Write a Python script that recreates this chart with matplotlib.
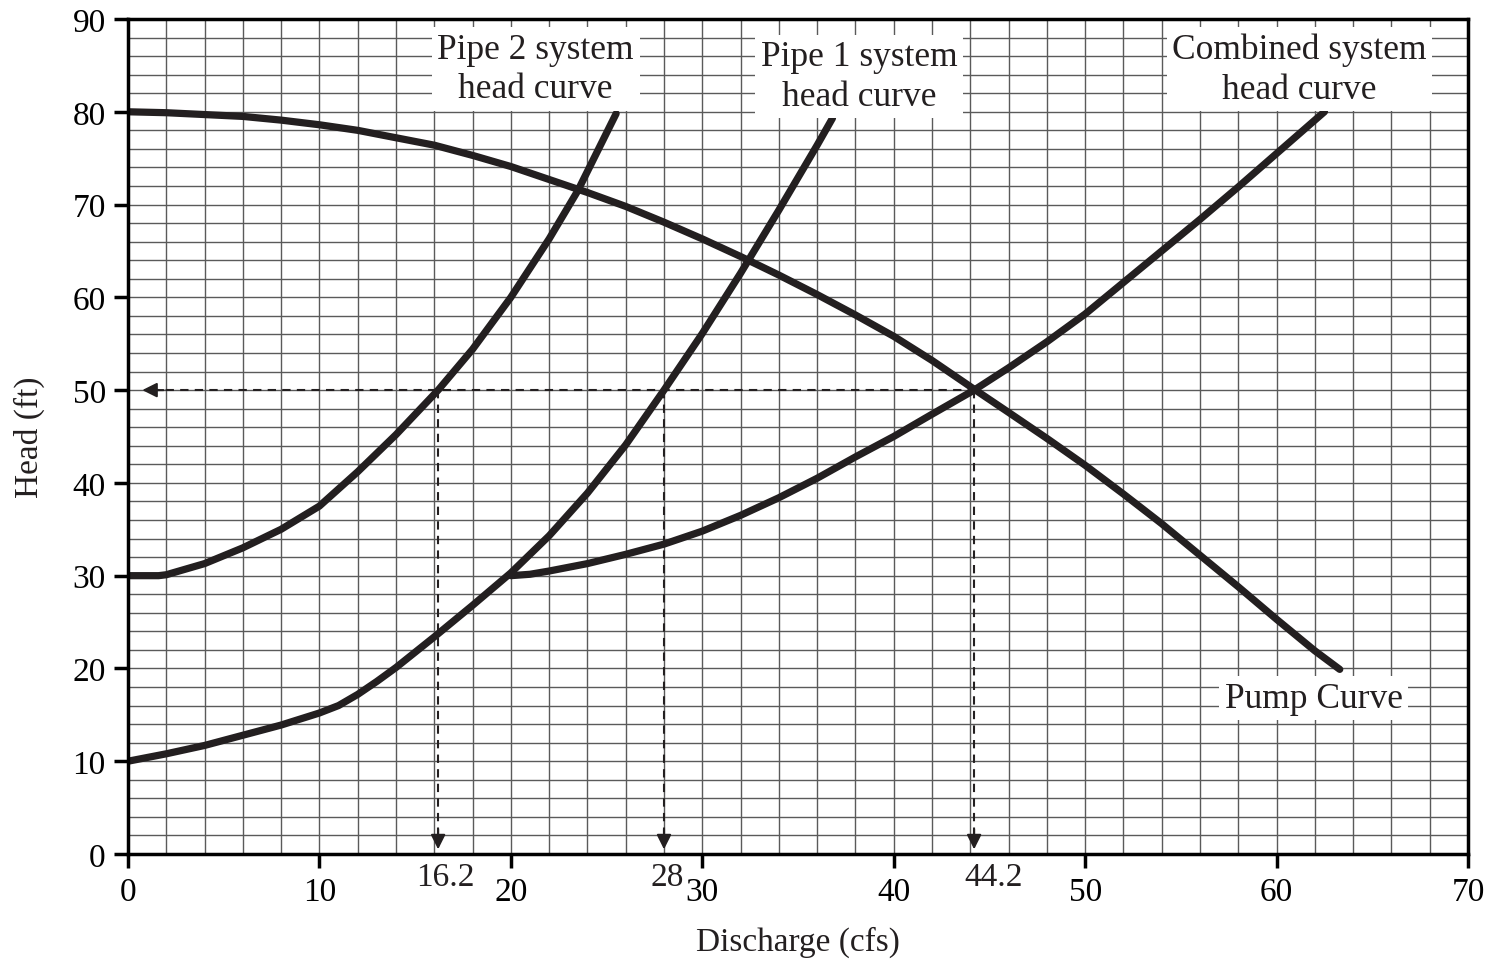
import matplotlib
matplotlib.use("Agg")
import matplotlib.pyplot as plt
from matplotlib.ticker import MultipleLocator

plt.rcParams['font.family'] = ['Liberation Serif', 'DejaVu Serif']

# Data (discharge in cfs, head in ft)
pump_q = [0, 2, 4, 6, 8, 10, 12, 14, 16, 18, 20, 22, 24, 26, 28, 30, 32, 34, 36, 38, 40, 42,
          44.2, 46, 48, 50, 52, 54, 56, 58, 60, 62, 63.3]
pump_h = [80, 79.9, 79.7, 79.5, 79.1, 78.6, 78.0, 77.2, 76.4, 75.3, 74.1, 72.7, 71.3, 69.8,
          68.1, 66.3, 64.4, 62.4, 60.3, 58.1, 55.8, 53.2, 50.1, 47.6, 44.8, 41.9, 38.8, 35.6,
          32.2, 28.8, 25.3, 21.9, 19.9]

pipe2_q = [0, 1.6, 2, 4, 6, 8, 10, 12, 14, 16.2, 18, 20, 22, 23.5, 25.5]
pipe2_h = [30, 30, 30.1, 31.3, 33.0, 35.0, 37.5, 41.2, 45.2, 50, 54.4, 60.0, 66.3, 71.5, 79.8]

pipe1_q = [0, 2, 4, 6, 8, 10, 11, 12, 13, 14, 16, 18, 20, 22, 24, 26, 28, 30, 32, 34, 36, 36.8]
pipe1_h = [10, 10.8, 11.7, 12.8, 13.9, 15.2, 16.0, 17.2, 18.6, 20.1, 23.4, 26.8, 30.3, 34.3,
           38.9, 44.1, 50, 56.1, 62.6, 69.4, 76.4, 79.3]

comb_q = [20, 21, 22, 24, 26, 28, 30, 32, 34, 36, 38, 40, 42, 44.2, 46, 48, 50, 52, 54, 56,
          58, 60, 62.5]
comb_h = [30, 30.15, 30.5, 31.3, 32.3, 33.4, 34.8, 36.5, 38.4, 40.5, 42.8, 45.0, 47.4, 50,
          52.4, 55.2, 58.2, 61.6, 65.0, 68.4, 71.9, 75.5, 80]

op_head = 50
op_flows = [16.2, 28, 44.2]
op_labels = ["16.2", "28", "44.2"]

fig = plt.figure(figsize=(14.97, 9.62), dpi=100)
ax = fig.add_axes([128/1497, 1-855/962, (1468-128)/1497, (855-20)/962])
ax.set_xlim(0, 70)
ax.set_ylim(0, 90)
ax.xaxis.set_major_locator(MultipleLocator(10))
ax.yaxis.set_major_locator(MultipleLocator(10))
ax.xaxis.set_minor_locator(MultipleLocator(2))
ax.yaxis.set_minor_locator(MultipleLocator(2))
ax.grid(which='both', color='#5a5a5a', linewidth=1.0)
ax.set_axisbelow(True)
for s in ax.spines.values():
    s.set_linewidth(2.5)
    s.set_zorder(10)
ax.tick_params(which='major', direction='out', length=10, width=2.5, labelsize=24, pad=6)
ax.tick_params(which='minor', length=0)

ink = '#231f20'
lw = 5.2
for q, h in [(pump_q, pump_h), (pipe2_q, pipe2_h), (pipe1_q, pipe1_h), (comb_q, comb_h)]:
    ax.plot(q, h, color=ink, linewidth=lw, solid_capstyle='round',
            solid_joinstyle='round', zorder=3)

# operating point dashed lines
ax.plot([1.2, op_flows[-1]], [op_head, op_head], color=ink, lw=1.5, ls=(0, (4, 3)), zorder=4)
ax.annotate('', xy=(0.6, op_head), xytext=(2.0, op_head),
            arrowprops=dict(arrowstyle='-|>', color=ink, lw=1.5, mutation_scale=22), zorder=4)
for q in op_flows:
    ax.plot([q, q], [op_head, 1.8], color=ink, lw=1.5, ls=(0, (4, 3)), zorder=4)
    ax.annotate('', xy=(q, 0.2), xytext=(q, 3.0),
                arrowprops=dict(arrowstyle='-|>', color=ink, lw=1.5, mutation_scale=22), zorder=4)

label_dx = [0.4, 0.15, 1.0]
for q, lab, dx in zip(op_flows, op_labels, label_dx):
    ax.text(q + dx, -0.8, lab, ha='center', va='top', fontsize=24, color=ink)

box = dict(facecolor='white', edgecolor='none', pad=4)
kw = dict(ha='center', va='center', fontsize=25.5, bbox=box, linespacing=1.26, zorder=5, color=ink)
ax.text(21.3, 84.6, "Pipe 2 system\nhead curve", **kw)
ax.text(38.2, 83.8, "Pipe 1 system\nhead curve", **kw)
ax.text(61.2, 84.6, "Combined system\nhead curve", **kw)
ax.text(61.93, 16.8, "Pump Curve", **kw)

ax.set_xlabel("Discharge (cfs)", fontsize=24, labelpad=14, color=ink)
ax.set_ylabel("Head (ft)", fontsize=24, labelpad=20, color=ink)

fig.savefig("out.png", dpi=100)
